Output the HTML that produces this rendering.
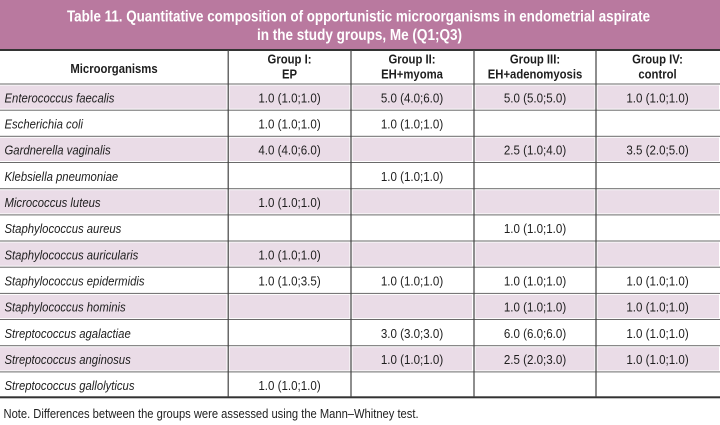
<!DOCTYPE html>
<html><head><meta charset="utf-8"><style>
html,body{margin:0;padding:0;background:#fff;}
svg{display:block;}
text{font-family:"Liberation Sans",Arial,sans-serif;}
</style></head><body>
<svg width="720" height="425" viewBox="0 0 720 425" xmlns="http://www.w3.org/2000/svg">
<rect x="0" y="0" width="720" height="425" fill="#fff"/>
<!-- title band -->
<rect x="0" y="0" width="720" height="49.5" fill="#b9799f"/>
<text x="67" y="21.5" font-size="16" font-weight="bold" fill="#fff" textLength="583" lengthAdjust="spacingAndGlyphs">Table 11. Quantitative composition of opportunistic microorganisms in endometrial aspirate</text>
<text x="257" y="40" font-size="16" font-weight="bold" fill="#fff" textLength="205" lengthAdjust="spacingAndGlyphs">in the study groups, Me (Q1;Q3)</text>
<rect x="0" y="49" width="720" height="2" fill="#333"/>

<!-- shaded rows -->
<g fill="#eadce7">
<!-- row 0 y=84 -->
<rect x="0" y="85.5" width="226.5" height="23.2"/><rect x="229.5" y="85.5" width="120" height="23.2"/><rect x="352.5" y="85.5" width="119.5" height="23.2"/><rect x="475.5" y="85.5" width="119" height="23.2"/><rect x="597.5" y="85.5" width="121.5" height="23.2"/>
<!-- row 2 y=136.34 -->
<rect x="0" y="137.8" width="226.5" height="23.2"/><rect x="229.5" y="137.8" width="120" height="23.2"/><rect x="352.5" y="137.8" width="119.5" height="23.2"/><rect x="475.5" y="137.8" width="119" height="23.2"/><rect x="597.5" y="137.8" width="121.5" height="23.2"/>
<!-- row 4 y=188.68 -->
<rect x="0" y="190.2" width="226.5" height="23.2"/><rect x="229.5" y="190.2" width="120" height="23.2"/><rect x="352.5" y="190.2" width="119.5" height="23.2"/><rect x="475.5" y="190.2" width="119" height="23.2"/><rect x="597.5" y="190.2" width="121.5" height="23.2"/>
<!-- row 6 y=241.02 -->
<rect x="0" y="242.5" width="226.5" height="23.2"/><rect x="229.5" y="242.5" width="120" height="23.2"/><rect x="352.5" y="242.5" width="119.5" height="23.2"/><rect x="475.5" y="242.5" width="119" height="23.2"/><rect x="597.5" y="242.5" width="121.5" height="23.2"/>
<!-- row 8 y=293.36 -->
<rect x="0" y="294.9" width="226.5" height="23.2"/><rect x="229.5" y="294.9" width="120" height="23.2"/><rect x="352.5" y="294.9" width="119.5" height="23.2"/><rect x="475.5" y="294.9" width="119" height="23.2"/><rect x="597.5" y="294.9" width="121.5" height="23.2"/>
<!-- row 10 y=345.7 -->
<rect x="0" y="347.2" width="226.5" height="23.2"/><rect x="229.5" y="347.2" width="120" height="23.2"/><rect x="352.5" y="347.2" width="119.5" height="23.2"/><rect x="475.5" y="347.2" width="119" height="23.2"/><rect x="597.5" y="347.2" width="121.5" height="23.2"/>
</g>

<!-- horizontal lines -->
<g fill="#6a6a6a">
<rect x="0" y="83.5" width="720" height="1"/>
<rect x="0" y="109.7" width="720" height="1"/>
<rect x="0" y="135.8" width="720" height="1"/>
<rect x="0" y="162.0" width="720" height="1"/>
<rect x="0" y="188.2" width="720" height="1"/>
<rect x="0" y="214.4" width="720" height="1"/>
<rect x="0" y="240.5" width="720" height="1"/>
<rect x="0" y="266.7" width="720" height="1"/>
<rect x="0" y="292.9" width="720" height="1"/>
<rect x="0" y="319.0" width="720" height="1"/>
<rect x="0" y="345.2" width="720" height="1"/>
<rect x="0" y="371.4" width="720" height="1"/>
</g>
<rect x="0" y="396.3" width="720" height="2" fill="#333"/>

<!-- vertical lines -->
<g fill="#444">
<rect x="227.6" y="50" width="1.2" height="347"/>
<rect x="350.4" y="50" width="1.2" height="347"/>
<rect x="473.4" y="50" width="1.2" height="347"/>
<rect x="595.4" y="50" width="1.2" height="347"/>
</g>

<!-- header -->
<g font-size="13" font-weight="bold" fill="#1e1e1e" text-anchor="middle">
<text transform="translate(114,73) scale(0.87,1)">Microorganisms</text>
<text transform="translate(289.5,63.5) scale(0.87,1)">Group I:</text>
<text transform="translate(289.5,78.5) scale(0.87,1)">EP</text>
<text transform="translate(412,63.5) scale(0.87,1)">Group II:</text>
<text transform="translate(412,78.5) scale(0.87,1)">EH+myoma</text>
<text transform="translate(535,63.5) scale(0.87,1)">Group III:</text>
<text transform="translate(535,78.5) scale(0.87,1)">EH+adenomyosis</text>
<text transform="translate(657.5,63.5) scale(0.87,1)">Group IV:</text>
<text transform="translate(657.5,78.5) scale(0.87,1)">control</text>
</g>

<!-- names -->
<g font-size="13" font-style="italic" fill="#1e1e1e">
<text transform="translate(4.5,102.3) scale(0.87,1)">Enterococcus faecalis</text>
<text transform="translate(4.5,128.5) scale(0.87,1)">Escherichia coli</text>
<text transform="translate(4.5,154.6) scale(0.87,1)">Gardnerella vaginalis</text>
<text transform="translate(4.5,180.8) scale(0.87,1)">Klebsiella pneumoniae</text>
<text transform="translate(4.5,207.0) scale(0.87,1)">Micrococcus luteus</text>
<text transform="translate(4.5,233.2) scale(0.87,1)">Staphylococcus aureus</text>
<text transform="translate(4.5,259.3) scale(0.87,1)">Staphylococcus auricularis</text>
<text transform="translate(4.5,285.5) scale(0.87,1)">Staphylococcus epidermidis</text>
<text transform="translate(4.5,311.7) scale(0.87,1)">Staphylococcus hominis</text>
<text transform="translate(4.5,337.8) scale(0.87,1)">Streptococcus agalactiae</text>
<text transform="translate(4.5,364.0) scale(0.87,1)">Streptococcus anginosus</text>
<text transform="translate(4.5,390.2) scale(0.87,1)">Streptococcus gallolyticus</text>
</g>

<!-- data -->
<g font-size="13" fill="#1e1e1e" text-anchor="middle">
<!-- row 0 -->
<text transform="translate(289.5,102.3) scale(0.89,1)">1.0 (1.0;1.0)</text>
<text transform="translate(412,102.3) scale(0.89,1)">5.0 (4.0;6.0)</text>
<text transform="translate(535,102.3) scale(0.89,1)">5.0 (5.0;5.0)</text>
<text transform="translate(657.5,102.3) scale(0.89,1)">1.0 (1.0;1.0)</text>
<!-- row 1 -->
<text transform="translate(289.5,128.5) scale(0.89,1)">1.0 (1.0;1.0)</text>
<text transform="translate(412,128.5) scale(0.89,1)">1.0 (1.0;1.0)</text>
<!-- row 2 -->
<text transform="translate(289.5,154.6) scale(0.89,1)">4.0 (4.0;6.0)</text>
<text transform="translate(535,154.6) scale(0.89,1)">2.5 (1.0;4.0)</text>
<text transform="translate(657.5,154.6) scale(0.89,1)">3.5 (2.0;5.0)</text>
<!-- row 3 -->
<text transform="translate(412,180.8) scale(0.89,1)">1.0 (1.0;1.0)</text>
<!-- row 4 -->
<text transform="translate(289.5,207.0) scale(0.89,1)">1.0 (1.0;1.0)</text>
<!-- row 5 -->
<text transform="translate(535,233.2) scale(0.89,1)">1.0 (1.0;1.0)</text>
<!-- row 6 -->
<text transform="translate(289.5,259.3) scale(0.89,1)">1.0 (1.0;1.0)</text>
<!-- row 7 -->
<text transform="translate(289.5,285.5) scale(0.89,1)">1.0 (1.0;3.5)</text>
<text transform="translate(412,285.5) scale(0.89,1)">1.0 (1.0;1.0)</text>
<text transform="translate(535,285.5) scale(0.89,1)">1.0 (1.0;1.0)</text>
<text transform="translate(657.5,285.5) scale(0.89,1)">1.0 (1.0;1.0)</text>
<!-- row 8 -->
<text transform="translate(535,311.7) scale(0.89,1)">1.0 (1.0;1.0)</text>
<text transform="translate(657.5,311.7) scale(0.89,1)">1.0 (1.0;1.0)</text>
<!-- row 9 -->
<text transform="translate(412,337.8) scale(0.89,1)">3.0 (3.0;3.0)</text>
<text transform="translate(535,337.8) scale(0.89,1)">6.0 (6.0;6.0)</text>
<text transform="translate(657.5,337.8) scale(0.89,1)">1.0 (1.0;1.0)</text>
<!-- row 10 -->
<text transform="translate(412,364.0) scale(0.89,1)">1.0 (1.0;1.0)</text>
<text transform="translate(535,364.0) scale(0.89,1)">2.5 (2.0;3.0)</text>
<text transform="translate(657.5,364.0) scale(0.89,1)">1.0 (1.0;1.0)</text>
<!-- row 11 -->
<text transform="translate(289.5,390.2) scale(0.89,1)">1.0 (1.0;1.0)</text>
</g>

<!-- note -->
<text transform="translate(3.5,418) scale(0.86,1)" font-size="13" fill="#1e1e1e">Note. Differences between the groups were assessed using the Mann–Whitney test.</text>
</svg>
</body></html>
